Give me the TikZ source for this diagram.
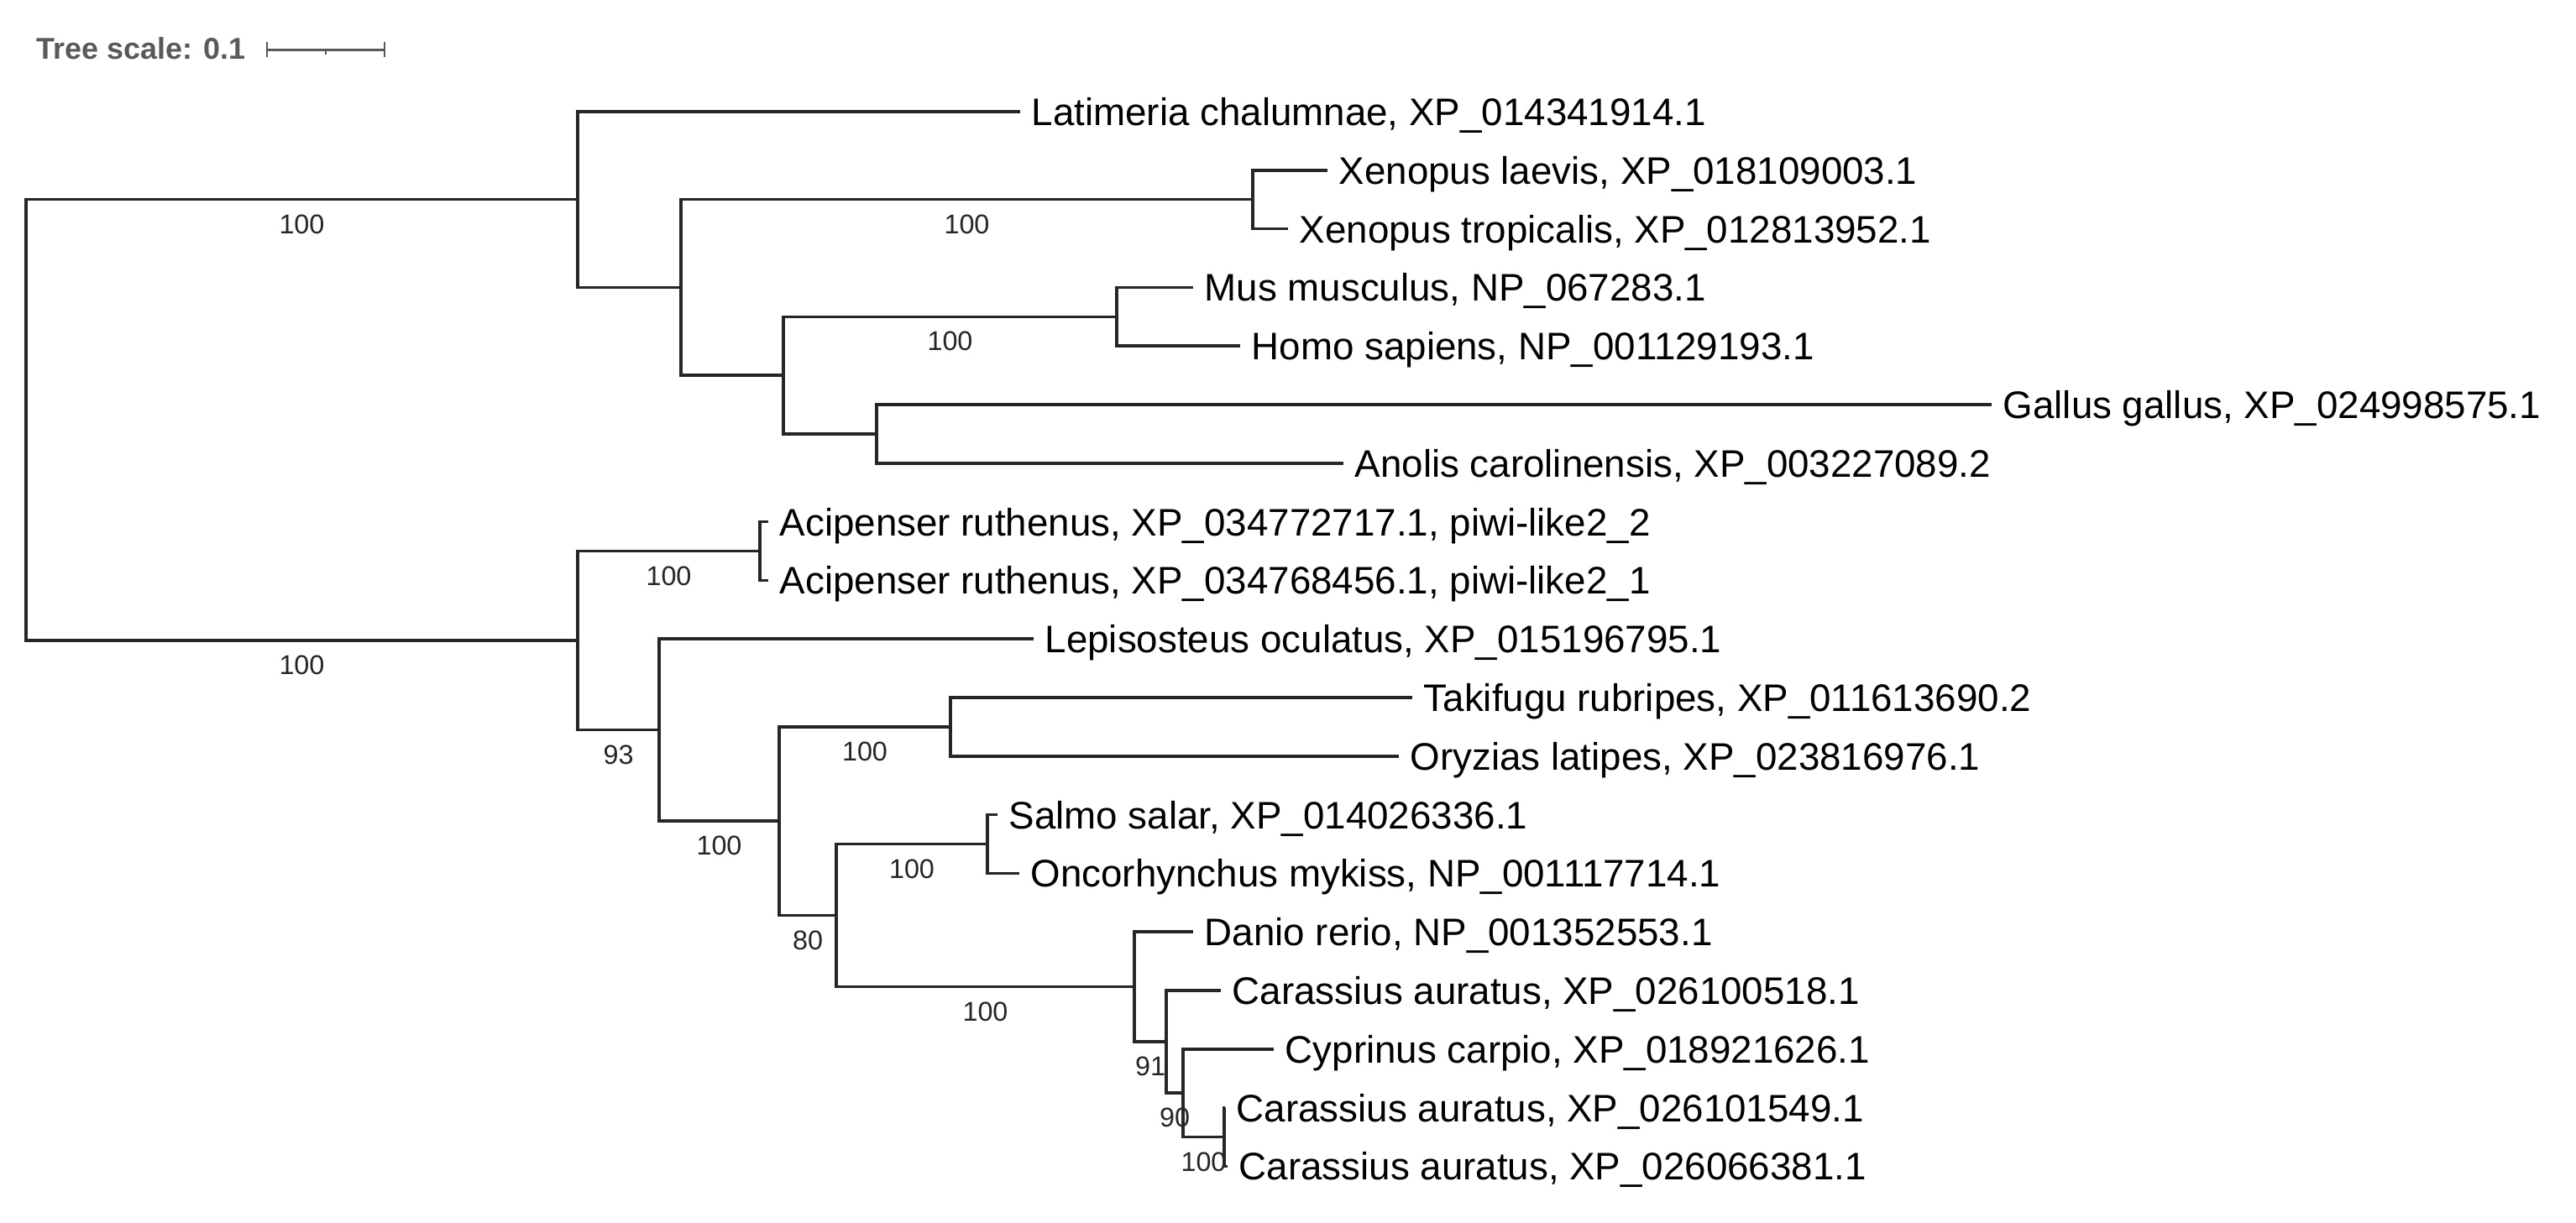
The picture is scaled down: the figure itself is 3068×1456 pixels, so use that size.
\documentclass[tikz,border=0pt]{standalone}
\usepackage{fontspec}
\setmainfont{Liberation Sans}
\begin{document}
\begin{tikzpicture}[x=0.01cm, y=-0.01cm,
  br/.style={draw=black!85, line width=1pt},
  leaf/.style={anchor=west, inner xsep=0.13cm, inner ysep=0pt, text height=0.33cm, text depth=0pt, font=\fontsize{13}{15}\selectfont, text=black},
  bs/.style={inner sep=0pt, text height=0.232cm, text depth=0pt, font=\fontsize{9.2}{11}\selectfont, text=black!85},
  scaletxt/.style={anchor=west, inner sep=0pt, text height=0.257cm, text depth=0pt, font=\fontsize{10.2}{12}\selectfont\bfseries, text=black!65},
  scalebar/.style={draw=black!65, line width=0.8pt}]
\useasboundingbox (0,0) rectangle (3068,1456);
% tree scale
\node[scaletxt] (ts) at (43,58) {Tree scale: 0.1};
\coordinate (sbA) at (318,59.3);
\coordinate (sbB) at (458,59.3);
\coordinate (sbM) at (388,59.3);
\draw[scalebar] (sbA) -- (sbB);
\draw[scalebar] ([yshift=-0.09cm]sbA) -- ([yshift=0.09cm]sbA);
\draw[scalebar] ([yshift=-0.09cm]sbB) -- ([yshift=0.09cm]sbB);
\draw[scalebar] (sbM) -- ([yshift=-0.06cm]sbM);
% internal nodes
\coordinate (root) at (31,500.4);
\coordinate (Top) at (688,237.7);
\coordinate (Bot) at (688,763.1);
\coordinate (Tet) at (811,342.4);
\coordinate (Xen) at (1492,237.7);
\coordinate (Amn) at (933,447.1);
\coordinate (MH) at (1330,377.3);
\coordinate (GA) at (1044,516.9);
\coordinate (Ac) at (905,656.5);
\coordinate (N93) at (785,869.7);
\coordinate (N100) at (928,978.2);
\coordinate (TO) at (1132,865.9);
\coordinate (N80) at (996,1090.6);
\coordinate (SO) at (1176,1005.5);
\coordinate (CypN) at (1351,1175.6);
\coordinate (C91) at (1389,1241.1);
\coordinate (C90) at (1409,1302.15);
\coordinate (C23) at (1458,1354.5);
% leaves
\node[leaf] (Lat) at (1215,133) {Latimeria chalumnae, XP\_014341914.1};
\node[leaf] (Xl) at (1581,202.8) {Xenopus laevis, XP\_018109003.1};
\node[leaf] (Xt) at (1534,272.6) {Xenopus tropicalis, XP\_012813952.1};
\node[leaf] (Mus) at (1421,342.4) {Mus musculus, NP\_067283.1};
\node[leaf] (Homo) at (1477,412.2) {Homo sapiens, NP\_001129193.1};
\node[leaf] (Gal) at (2372,482) {Gallus gallus, XP\_024998575.1};
\node[leaf] (Ano) at (1600,551.8) {Anolis carolinensis, XP\_003227089.2};
\node[leaf] (AcB) at (915,621.6) {Acipenser ruthenus, XP\_034772717.1, piwi-like2\_2};
\node[leaf] (AcA) at (915,691.4) {Acipenser ruthenus, XP\_034768456.1, piwi-like2\_1};
\node[leaf] (Lep) at (1231,761.2) {Lepisosteus oculatus, XP\_015196795.1};
\node[leaf] (Tak) at (1682,831) {Takifugu rubripes, XP\_011613690.2};
\node[leaf] (Ory) at (1666,900.8) {Oryzias latipes, XP\_023816976.1};
\node[leaf] (Sal) at (1188,970.6) {Salmo salar, XP\_014026336.1};
\node[leaf] (Onc) at (1214,1040.4) {Oncorhynchus mykiss, NP\_001117714.1};
\node[leaf] (Dan) at (1421,1110.2) {Danio rerio, NP\_001352553.1};
\node[leaf] (CarA) at (1454,1180) {Carassius auratus, XP\_026100518.1};
\node[leaf] (Cypr) at (1517,1249.8) {Cyprinus carpio, XP\_018921626.1};
\node[leaf] (CarB) at (1459,1319.6) {Carassius auratus, XP\_026101549.1};
\node[leaf] (CarC) at (1462,1389.4) {Carassius auratus, XP\_026066381.1};
% branches
\draw[br] (root) |- (Top);
\draw[br] (root) |- (Bot);
\draw[br] (Top) |- (Lat.west);
\draw[br] (Top) |- (Tet);
\draw[br] (Tet) |- (Xen);
\draw[br] (Tet) |- (Amn);
\draw[br] (Xen) |- (Xl.west);
\draw[br] (Xen) |- (Xt.west);
\draw[br] (Amn) |- (MH);
\draw[br] (Amn) |- (GA);
\draw[br] (MH) |- (Mus.west);
\draw[br] (MH) |- (Homo.west);
\draw[br] (GA) |- (Gal.west);
\draw[br] (GA) |- (Ano.west);
\draw[br] (Bot) |- (Ac);
\draw[br] (Bot) |- (N93);
\draw[br] (Ac) |- (AcB.west);
\draw[br] (Ac) |- (AcA.west);
\draw[br] (N93) |- (Lep.west);
\draw[br] (N93) |- (N100);
\draw[br] (N100) |- (TO);
\draw[br] (N100) |- (N80);
\draw[br] (TO) |- (Tak.west);
\draw[br] (TO) |- (Ory.west);
\draw[br] (N80) |- (SO);
\draw[br] (N80) |- (CypN);
\draw[br] (SO) |- (Sal.west);
\draw[br] (SO) |- (Onc.west);
\draw[br] (CypN) |- (Dan.west);
\draw[br] (CypN) |- (C91);
\draw[br] (C91) |- (CarA.west);
\draw[br] (C91) |- (C90);
\draw[br] (C90) |- (Cypr.west);
\draw[br] (C90) |- (C23);
\draw[br] (C23) |- (CarB.west);
\draw[br] (C23) |- (CarC.west);
% bootstrap values
\node[bs] (bTop) at (359.5,266.7) {100};
\node[bs] (bBot) at (359.5,792.1) {100};
\node[bs] (bXen) at (1151.5,266.7) {100};
\node[bs] (bMH) at (1131.5,406.3) {100};
\node[bs] (bAc) at (796.5,685.5) {100};
\node[bs] (b93) at (736.5,898.7) {93};
\node[bs] (bN100) at (856.5,1007.2) {100};
\node[bs] (bTO) at (1030,894.9) {100};
\node[bs] (b80) at (962,1119.6) {80};
\node[bs] (bSO) at (1086,1034.5) {100};
\node[bs] (bCyp) at (1173.5,1204.6) {100};
\node[bs] (b91) at (1370,1270.1) {91};
\node[bs] (b90) at (1399,1331.15) {90};
\node[bs] (bC23) at (1433.5,1383.5) {100};
\end{tikzpicture}
\end{document}
